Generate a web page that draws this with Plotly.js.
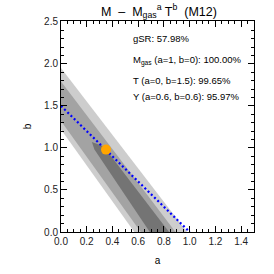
<!DOCTYPE html>
<html>
<head>
<meta charset="utf-8">
<script src="https://cdn.plot.ly/plotly-3.0.1.min.js"></script>
<style>html,body{margin:0;padding:0;background:#fff;}#chart{width:274px;height:274px;}</style>
</head>
<body>
<div id="chart"></div>
<script>
// Confidence regions (polygon outlines in a-b space)
const lightA = [0, 0.98, 0.57, 0];
const lightB = [1.95, 0, 0, 1.22];
const mediumA = [0, 0.89, 0.62, 0];
const mediumB = [1.79, 0, 0, 1.32];
const darkA = [0.24, 0.33, 0.84, 0.69, 0.26];
const darkB = [1.07, 1.02, 0, 0, 0.98];
// Relation line and best-fit point
const lineA = [0, 1];
const lineB = [1.5, 0];
const bestA = [0.35];
const bestB = [0.98];
// Text
const titleText = "M  –  M<sub>gas</sub><sup>a</sup> T<sup>b</sup>  (M12)";
const xTitle = "a";
const yTitle = "b";
const notes = [
  "gSR: 57.98%",
  "M<sub>gas</sub> (a=1, b=0): 100.00%",
  "T (a=0, b=1.5): 99.65%",
  "Y (a=0.6, b=0.6): 95.97%"
];
const noteY = [0.918, 0.815, 0.72, 0.64];
const xTicks = [0, 0.2, 0.4, 0.6, 0.8, 1.0, 1.2, 1.4];
const yTicks = [0, 0.5, 1.0, 1.5, 2.0, 2.5];

const font = "Liberation Sans, Arial, sans-serif";
const traces = [
  {x: lightA, y: lightB, type: 'scatter', mode: 'lines', fill: 'toself', fillcolor: '#cdcdcd', line: {width: 0}, hoverinfo: 'skip'},
  {x: mediumA, y: mediumB, type: 'scatter', mode: 'lines', fill: 'toself', fillcolor: '#a3a3a3', line: {width: 0}, hoverinfo: 'skip'},
  {x: darkA, y: darkB, type: 'scatter', mode: 'lines', fill: 'toself', fillcolor: '#747474', line: {width: 0}, hoverinfo: 'skip'},
  {x: lineA, y: lineB, type: 'scatter', mode: 'lines', line: {color: '#0000ff', width: 2.2, dash: '2px,2.5px'}},
  {x: bestA, y: bestB, type: 'scatter', mode: 'markers', marker: {color: '#ffa500', size: 10}}
];
const axisCommon = {
  showline: true, mirror: 'ticks', linecolor: '#000', linewidth: 1,
  ticks: 'inside', ticklen: 6, tickcolor: '#000', tickwidth: 1,
  showgrid: false, zeroline: false,
  tickfont: {family: font, size: 10, color: '#222'},
  minor: {ticks: 'inside', ticklen: 3, tickcolor: '#000', tickwidth: 1, showgrid: false}
};
const layout = {
  width: 274, height: 274,
  margin: {l: 61, r: 20, t: 21, b: 42},
  paper_bgcolor: '#fff', plot_bgcolor: '#fff',
  showlegend: false,
  title: {text: titleText, font: {family: font, size: 12.5, color: '#000'}, x: 0.58, xanchor: 'center', y: 0.975, yanchor: 'top'},
  xaxis: Object.assign({}, axisCommon, {
    range: [0, 1.5], tickvals: xTicks, tickformat: '.1f',
    minor: Object.assign({}, axisCommon.minor, {dtick: 0.05}),
    title: {text: xTitle, font: {family: font, size: 10, color: '#000'}, standoff: 10}
  }),
  yaxis: Object.assign({}, axisCommon, {
    range: [0, 2.51], tickvals: yTicks, tickformat: '.1f',
    minor: Object.assign({}, axisCommon.minor, {dtick: 0.1}),
    title: {text: yTitle, font: {family: font, size: 10, color: '#000'}, standoff: 10}
  }),
  annotations: notes.map((t, i) => ({
    text: t, xref: 'paper', yref: 'paper', x: 0.365, y: noteY[i],
    xanchor: 'left', yanchor: 'middle', showarrow: false,
    font: {family: font, size: 9.5, color: '#000'}
  }))
};
Plotly.newPlot('chart', traces, layout, {staticPlot: true, displayModeBar: false}).then(function () {
  // make sure every y tick label (including the top one) stays visible
  document.querySelectorAll('.ytick').forEach(function (g) {
    g.style.display = '';
    g.style.opacity = 1;
    g.removeAttribute('display');
    g.querySelectorAll('text').forEach(function (t) {
      t.style.display = '';
      t.style.opacity = 1;
      t.removeAttribute('display');
    });
  });
});
</script>
</body>
</html>
